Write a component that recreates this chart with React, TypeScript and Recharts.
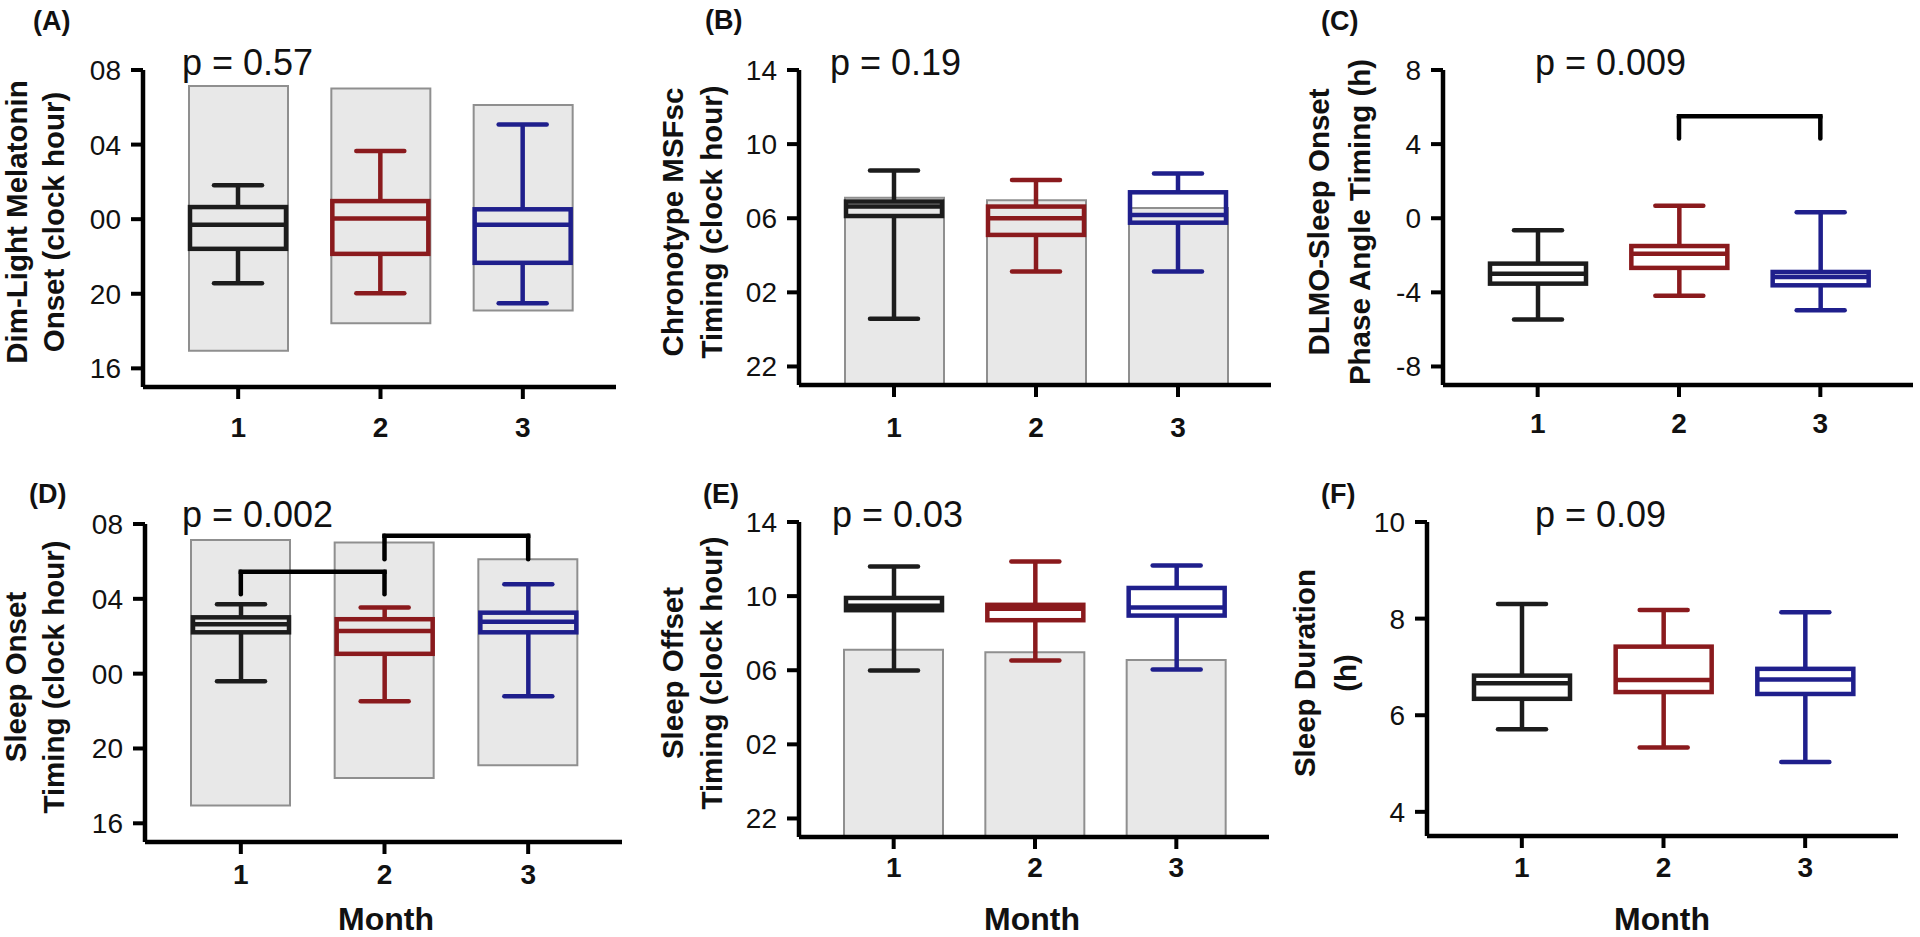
import React from "react";
import { ComposedChart, Bar, XAxis, YAxis, ReferenceLine } from "recharts";

const FONT = "'Liberation Sans', Arial, Helvetica, sans-serif";

const MONTHS = ["1", "2", "3"];
const MONTH_COLORS = ["#1c1c1c", "#8a1a1d", "#1f1f8c"];

// clock hours; times after midnight carry on past 24 (25.5 = 01:30)
const NIGHT_FROM = [16.95, 18.42, 19.1];
const NIGHT_TO = [31.14, 31.01, 30.12];
const MORNING_FROM = [21, 21, 21];
const MORNING_TO = [31.1, 30.97, 30.55];

// (A) dim-light melatonin onset
const DLMO_MIN = [20.57, 20.03, 19.49];
const DLMO_Q1 = [22.41, 22.14, 21.66];
const DLMO_MED = [23.7, 24.03, 23.7];
const DLMO_Q3 = [24.65, 24.97, 24.53];
const DLMO_MAX = [25.82, 27.66, 29.08];

// (B) chronotype MSFsc
const MSF_MIN = [24.57, 27.12, 27.12];
const MSF_Q1 = [30.12, 29.1, 29.76];
const MSF_MED = [30.63, 30.0, 30.18];
const MSF_Q3 = [30.9, 30.63, 31.4];
const MSF_MAX = [32.57, 32.06, 32.42];

// (C) DLMO - sleep onset phase angle (h)
const PHASE_MIN = [-5.46, -4.18, -4.97];
const PHASE_Q1 = [-3.53, -2.68, -3.62];
const PHASE_MED = [-2.99, -1.91, -3.17];
const PHASE_Q3 = [-2.45, -1.5, -2.9];
const PHASE_MAX = [-0.65, 0.67, 0.32];

// (D) sleep onset
const ONSET_MIN = [23.6, 22.53, 22.79];
const ONSET_Q1 = [26.21, 25.06, 26.21];
const ONSET_MED = [26.64, 26.28, 26.78];
const ONSET_Q3 = [27.01, 26.91, 27.26];
const ONSET_MAX = [27.71, 27.53, 28.78];

// (E) sleep offset
const OFFSET_MIN = [29.99, 30.53, 30.04];
const OFFSET_Q1 = [33.24, 32.7, 32.95];
const OFFSET_MED = [33.48, 33.32, 33.39];
const OFFSET_Q3 = [33.9, 33.53, 34.44];
const OFFSET_MAX = [35.6, 35.87, 35.65];

// (F) sleep duration (h)
const DUR_MIN = [5.71, 5.33, 5.03];
const DUR_Q1 = [6.34, 6.48, 6.44];
const DUR_MED = [6.66, 6.73, 6.74];
const DUR_Q3 = [6.82, 7.42, 6.96];
const DUR_MAX = [8.3, 8.18, 8.13];

const CLOCK_TICKS_EVE = [16, 20, 24, 28, 32];
const CLOCK_TICKS_DAY = [22, 26, 30, 34, 38];
const PHASE_TICKS = [-8, -4, 0, 4, 8];
const DUR_TICKS = [4, 6, 8, 10];

const PHASE_BRACKETS = [{ from: "2", to: "3", top: 5.5, foot: 4.3 }];
const ONSET_BRACKETS = [
  { from: "1", to: "2", top: 29.45, foot: 28.25 },
  { from: "2", to: "3", top: 31.37, foot: 30.12 },
];

const clock = (v: number) => String(((v % 24) + 24) % 24).padStart(2, "0");
const plain = (v: number) => String(v);

function rows(min: number[], q1: number[], med: number[], q3: number[], max: number[], darkFrom?: number[], darkTo?: number[]) {
  return MONTHS.map((m, i) => ({
    month: m,
    range: [min[i], max[i]],
    q1: q1[i],
    med: med[i],
    q3: q3[i],
    dark: darkFrom && darkTo ? [darkFrom[i], darkTo[i]] : undefined,
  }));
}

function BoxShape(props: any) {
  const { x, y, width, height, payload } = props;
  if (!payload || !payload.range) return null;
  const [lo, hi] = payload.range;
  const top = Math.min(y, y + height);
  const h = Math.abs(height);
  const py = (v: number) => top + ((hi - v) / (hi - lo)) * h;
  const cx = x + width / 2;
  const c = MONTH_COLORS[MONTHS.indexOf(payload.month)];
  const yq3 = py(payload.q3);
  const yq1 = py(payload.q1);
  const ym = py(payload.med);
  const cap = 48;
  const sw = 4.5;
  return (
    <g>
      <line x1={cx} x2={cx} y1={top} y2={yq3} stroke={c} strokeWidth={sw} />
      <line x1={cx} x2={cx} y1={yq1} y2={top + h} stroke={c} strokeWidth={sw} />
      <line x1={cx - cap / 2} x2={cx + cap / 2} y1={top} y2={top} stroke={c} strokeWidth={sw} strokeLinecap="round" />
      <line x1={cx - cap / 2} x2={cx + cap / 2} y1={top + h} y2={top + h} stroke={c} strokeWidth={sw} strokeLinecap="round" />
      <rect x={x} y={yq3} width={width} height={Math.max(0, yq1 - yq3)} fill="none" stroke={c} strokeWidth={sw} />
      <line x1={x} x2={x + width} y1={ym} y2={ym} stroke={c} strokeWidth={sw} />
    </g>
  );
}

const PANELS = [
  {
    key: "A", ox: 0, oy: 0, margin: { left: 73, right: 24, top: 70, bottom: 20 },
    domain: [15, 32], ticks: CLOCK_TICKS_EVE, fmt: clock, xTickMargin: 18,
    data: rows(DLMO_MIN, DLMO_Q1, DLMO_MED, DLMO_Q3, DLMO_MAX, NIGHT_FROM, NIGHT_TO), brackets: [],
  },
  {
    key: "B", ox: 640, oy: 0, margin: { left: 89, right: 9, top: 70, bottom: 22 },
    domain: [21, 38], ticks: CLOCK_TICKS_DAY, fmt: clock, xTickMargin: 20,
    data: rows(MSF_MIN, MSF_Q1, MSF_MED, MSF_Q3, MSF_MAX, MORNING_FROM, MORNING_TO), brackets: [],
  },
  {
    key: "C", ox: 1280, oy: 0, margin: { left: 93, right: 7, top: 70, bottom: 22 },
    domain: [-9, 8], ticks: PHASE_TICKS, fmt: plain, xTickMargin: 16,
    data: rows(PHASE_MIN, PHASE_Q1, PHASE_MED, PHASE_Q3, PHASE_MAX), brackets: PHASE_BRACKETS,
  },
  {
    key: "D", ox: 0, oy: 467, margin: { left: 75, right: 18, top: 57, bottom: 32 },
    domain: [15, 32], ticks: CLOCK_TICKS_EVE, fmt: clock, xTickMargin: 10,
    data: rows(ONSET_MIN, ONSET_Q1, ONSET_MED, ONSET_Q3, ONSET_MAX, NIGHT_FROM, NIGHT_TO), brackets: ONSET_BRACKETS,
  },
  {
    key: "E", ox: 640, oy: 467, margin: { left: 89, right: 11, top: 55, bottom: 37 },
    domain: [21, 38], ticks: CLOCK_TICKS_DAY, fmt: clock, xTickMargin: 8,
    data: rows(OFFSET_MIN, OFFSET_Q1, OFFSET_MED, OFFSET_Q3, OFFSET_MAX, MORNING_FROM, MORNING_TO), brackets: [],
  },
  {
    key: "F", ox: 1280, oy: 467, margin: { left: 77, right: 22, top: 55, bottom: 38 },
    domain: [3.5, 10], ticks: DUR_TICKS, fmt: plain, xTickMargin: 9,
    data: rows(DUR_MIN, DUR_Q1, DUR_MED, DUR_Q3, DUR_MAX), brackets: [],
  },
];

const LETTERS = [
  { t: "(A)", x: 33, y: 30 },
  { t: "(B)", x: 705, y: 29 },
  { t: "(C)", x: 1321, y: 30 },
  { t: "(D)", x: 29, y: 503 },
  { t: "(E)", x: 703, y: 503 },
  { t: "(F)", x: 1321, y: 503 },
];

const PVALUES = [
  { t: "p = 0.57", x: 182, y: 75 },
  { t: "p = 0.19", x: 830, y: 75 },
  { t: "p = 0.009", x: 1535, y: 75 },
  { t: "p = 0.002", x: 182, y: 527 },
  { t: "p = 0.03", x: 832, y: 527 },
  { t: "p = 0.09", x: 1535, y: 527 },
];

const TITLES = [
  { lines: ["Dim-Light Melatonin", "Onset (clock hour)"], xs: [27, 64], cy: 222 },
  { lines: ["Chronotype MSFsc", "Timing (clock hour)"], xs: [683, 722], cy: 222 },
  { lines: ["DLMO-Sleep Onset", "Phase Angle Timing (h)"], xs: [1329, 1370], cy: 222 },
  { lines: ["Sleep Onset", "Timing (clock hour)"], xs: [26, 64], cy: 677 },
  { lines: ["Sleep Offset", "Timing (clock hour)"], xs: [683, 722], cy: 673 },
  { lines: ["Sleep Duration", "(h)"], xs: [1315, 1356], cy: 673 },
];

const MONTH_LABELS = [386, 1032, 1662];

function Panel({ p }: { p: (typeof PANELS)[number] }) {
  const hasDark = p.data[0].dark !== undefined;
  const pad = { left: 24, right: 22 };
  return (
    <div style={{ position: "absolute", left: p.ox, top: p.oy }}>
      <ComposedChart width={640} height={467} data={p.data} margin={p.margin}>
        <XAxis
          xAxisId="m"
          dataKey="month"
          padding={pad}
          height={60}
          interval={0}
          tickSize={12}
          tickMargin={p.xTickMargin}
          axisLine={{ stroke: "#000", strokeWidth: 4.5 }}
          tickLine={{ stroke: "#000", strokeWidth: 4 }}
          tick={{ fill: "#111", fontSize: 28, fontWeight: 700, fontFamily: FONT }}
        />
        {hasDark && <XAxis xAxisId="d" dataKey="month" padding={pad} height={0} hide />}
        <YAxis
          type="number"
          domain={p.domain}
          ticks={p.ticks}
          allowDataOverflow
          interval={0}
          width={70}
          tickSize={12}
          tickMargin={10}
          tickFormatter={p.fmt}
          axisLine={{ stroke: "#000", strokeWidth: 4.5 }}
          tickLine={{ stroke: "#000", strokeWidth: 4 }}
          tick={{ fill: "#111", fontSize: 28, fontFamily: FONT }}
        />
        {hasDark && (
          <Bar
            xAxisId="d"
            dataKey="dark"
            barSize={99}
            fill="#e8e8e8"
            stroke="#8f8f8f"
            strokeWidth={2}
            isAnimationActive={false}
          />
        )}
        <Bar xAxisId="m" dataKey="range" barSize={96} shape={BoxShape} isAnimationActive={false} />
        {p.brackets.map((b, i) => (
          <ReferenceLine
            key={`h${i}`}
            xAxisId="m"
            segment={[{ x: b.from, y: b.top }, { x: b.to, y: b.top }]}
            stroke="#000"
            strokeWidth={4.5}
            strokeLinecap="square"
          />
        ))}
        {p.brackets.map((b, i) => (
          <ReferenceLine
            key={`l${i}`}
            xAxisId="m"
            segment={[{ x: b.from, y: b.foot }, { x: b.from, y: b.top }]}
            stroke="#000"
            strokeWidth={4.5}
            strokeLinecap="round"
          />
        ))}
        {p.brackets.map((b, i) => (
          <ReferenceLine
            key={`r${i}`}
            xAxisId="m"
            segment={[{ x: b.to, y: b.foot }, { x: b.to, y: b.top }]}
            stroke="#000"
            strokeWidth={4.5}
            strokeLinecap="round"
          />
        ))}
      </ComposedChart>
    </div>
  );
}

export default function App() {
  return (
    <div
      style={{
        position: "absolute",
        left: 0,
        top: 0,
        width: 1920,
        height: 937,
        background: "#fff",
        fontFamily: FONT,
        overflow: "hidden",
      }}
    >
      {PANELS.map((p) => (
        <Panel key={p.key} p={p} />
      ))}
      <svg
        width={1920}
        height={937}
        style={{ position: "absolute", left: 0, top: 0, pointerEvents: "none" }}
        fontFamily={FONT}
      >
        {LETTERS.map((l) => (
          <text key={l.t} x={l.x} y={l.y} fontSize={27} fontWeight={700} fill="#111">
            {l.t}
          </text>
        ))}
        {PVALUES.map((v) => (
          <text key={v.t + v.x + v.y} x={v.x} y={v.y} fontSize={36} fill="#111">
            {v.t}
          </text>
        ))}
        {TITLES.map((t, i) =>
          t.lines.map((line, j) => (
            <text
              key={`${i}-${j}`}
              transform={`translate(${t.xs[j]},${t.cy}) rotate(-90)`}
              textAnchor="middle"
              fontSize={29.5}
              fontWeight={700}
              fill="#111"
            >
              {line}
            </text>
          ))
        )}
        {MONTH_LABELS.map((x) => (
          <text key={x} x={x} y={930} textAnchor="middle" fontSize={32} fontWeight={700} fill="#111">
            Month
          </text>
        ))}
      </svg>
    </div>
  );
}
